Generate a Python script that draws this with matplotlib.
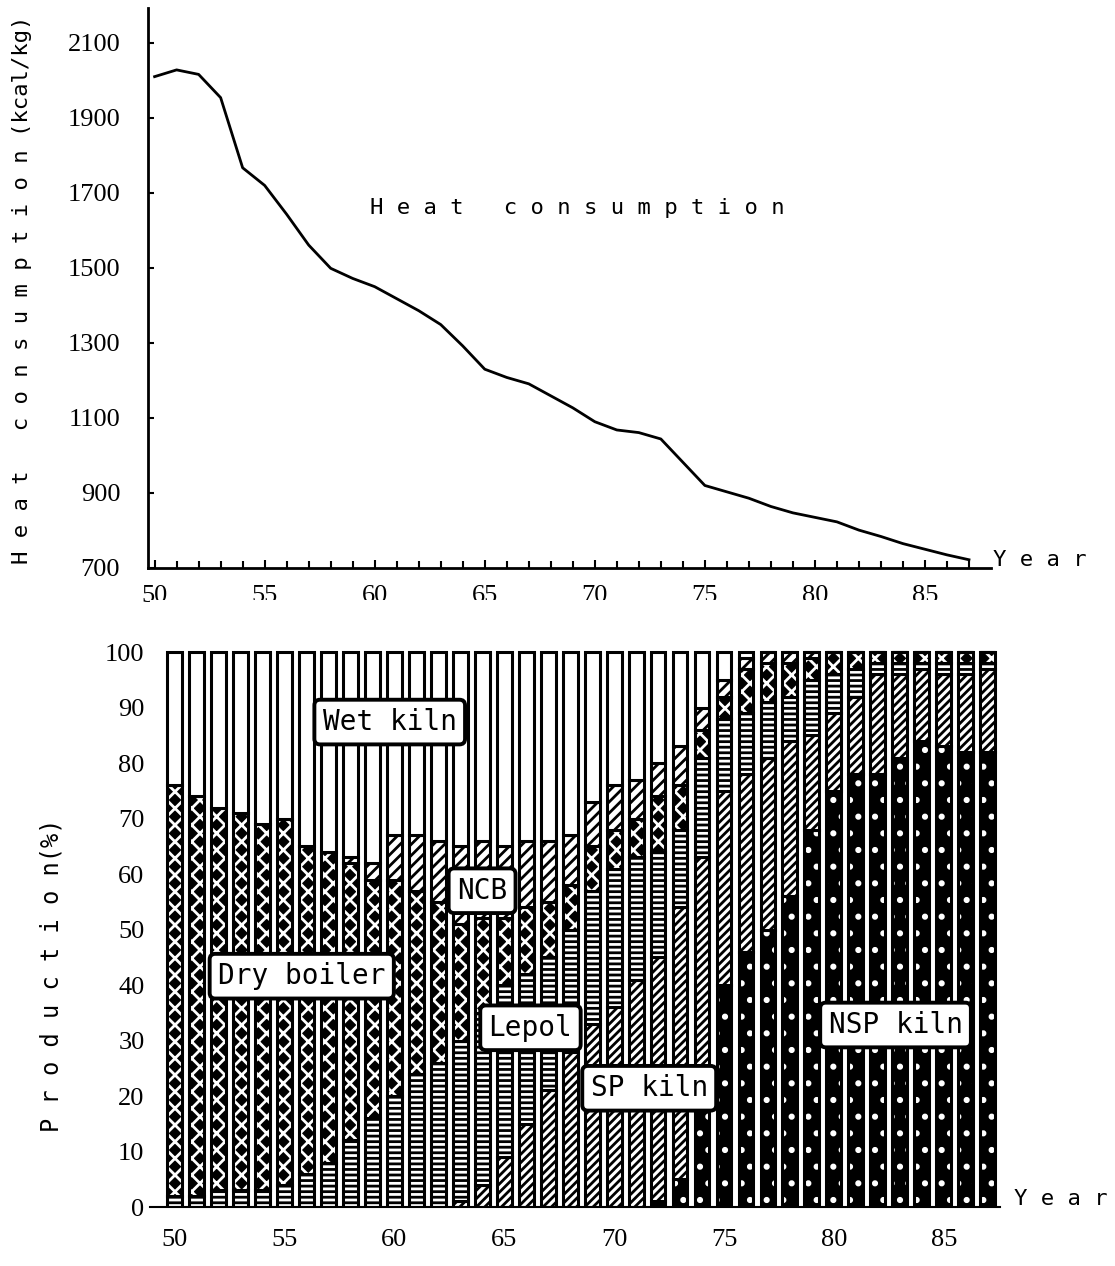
import numpy as np
import matplotlib
matplotlib.use("Agg")
import matplotlib.pyplot as plt

# =========================
# DATA
# =========================

# heat consumption of cement kilns (kcal/kg), years 1950-1987
heat_years = list(range(50, 88))
heat_values = [2010, 2028, 2016, 1954, 1767, 1720, 1643, 1561, 1499, 1472,
               1450, 1418, 1386, 1349, 1292, 1230, 1208, 1191, 1159, 1127,
               1090, 1068, 1061, 1044, 982, 920, 903, 886, 864, 847,
               835, 823, 801, 784, 765, 750, 735, 722]

# production share (%) by kiln type, years 1950-1987
bar_years = list(range(50, 88))
nsp_kiln = [0] * 22 + [1, 5, 25, 40, 46, 50, 56, 68, 75, 78, 78, 81, 84, 83, 82, 82]
sp_kiln = [0] * 13 + [1, 4, 9, 15, 21, 28, 33, 36, 41, 44, 49, 38, 35, 32, 31, 28, 17,
                      14, 14, 18, 15, 13, 13, 14, 15]
lepol = [2, 2, 3, 3, 3, 4, 6, 8, 12, 16, 20, 24, 26, 29, 31, 31, 27, 24, 22, 24,
         25, 22, 19, 14, 18, 13, 11, 10, 8, 10, 7, 5, 2, 2, 1, 2, 2, 1]
dry_boiler = [74, 72, 69, 68, 66, 66, 59, 56, 50, 43, 39, 33, 29, 21, 17, 12, 12, 10,
              8, 8, 7, 7, 10, 8, 5, 4, 8, 7, 6, 4, 4, 3, 2, 2, 2, 2, 2, 2]
ncb = [0] * 8 + [1, 3, 8, 10, 11, 14, 14, 13, 12, 11, 9, 8, 8, 7, 6, 7, 4, 3, 2, 2,
                 2, 1, 0, 0, 0, 0, 0, 0, 0, 0]
wet_kiln = [100 - (a + b + c + d + e) for a, b, c, d, e in
            zip(nsp_kiln, sp_kiln, lepol, dry_boiler, ncb)]

# =========================
# STYLE
# =========================

plt.rcParams["hatch.linewidth"] = 2.0
TICK_FAMILY = "Liberation Serif"
TICK_SIZE = 19
MONO = "DejaVu Sans Mono"

W, H = 1115, 1266
fig = plt.figure(figsize=(W / 100, H / 100), dpi=100)

# =========================
# 1. HEAT CONSUMPTION LINE
# =========================

ax1 = fig.add_axes([148 / W, 1 - 568 / H, 843 / W, 560 / H])
ax1.plot(heat_years, heat_values, color="black", lw=2)
ax1.set_xlim(49.7, 88)
ax1.set_ylim(700, 2193)
for s in ["top", "right"]:
    ax1.spines[s].set_visible(False)
for s in ["left", "bottom"]:
    ax1.spines[s].set_linewidth(2)
ax1.set_xticks(range(50, 90, 5))
ax1.set_xticks(range(50, 88), minor=True)
ax1.set_yticks(range(700, 2101, 200))
ax1.tick_params(axis="both", which="both", direction="in", width=1.5)
ax1.tick_params(axis="x", which="major", length=6, pad=12)
ax1.tick_params(axis="x", which="minor", length=5)
ax1.tick_params(axis="y", length=4, pad=20)
for lab in ax1.get_xticklabels() + ax1.get_yticklabels():
    lab.set_fontfamily(TICK_FAMILY)
    lab.set_fontsize(TICK_SIZE)

ax1.text(59.8, 1660, "H e a t   c o n s u m p t i o n", family=MONO,
         fontsize=16, va="center")
ax1.text(88.1, 720, "Y e a r", family=MONO, fontsize=16, va="center",
         clip_on=False)
fig.text(22 / W, 1 - 290 / H, "H e a t   c o n s u m p t i o n (kcal/kg)",
         family=MONO, fontsize=16, rotation=90, ha="center", va="center")

# =========================
# 2. PRODUCTION SHARE BY KILN TYPE
# =========================

ax2 = fig.add_axes([150 / W, 59 / H, 850 / W, 607 / H])
width = 0.68
lw = 2.2
bottom = np.zeros(len(bar_years))

# (values, hatch, dark face) stacked from the bottom up
layers = [
    (nsp_kiln, ".", True),
    (sp_kiln, "////", False),
    (lepol, "---", False),
    (dry_boiler, "xx", True),
    (ncb, "///", False),
    (wet_kiln, "", False),
]
for values, hatch, dark in layers:
    if dark:
        ax2.bar(bar_years, values, width, bottom=bottom, color="black",
                edgecolor="white", hatch=hatch, linewidth=0)
        ax2.bar(bar_years, values, width, bottom=bottom, fill=False,
                edgecolor="black", linewidth=lw)
    else:
        ax2.bar(bar_years, values, width, bottom=bottom, color="white",
                edgecolor="black", hatch=hatch, linewidth=lw)
    bottom += np.array(values)

ax2.set_xlim(48.9, 87.55)
ax2.set_ylim(0, 109.4)
for s in ["top", "right", "left"]:
    ax2.spines[s].set_visible(False)
ax2.spines["bottom"].set_linewidth(1.5)
ax2.set_xticks(range(50, 90, 5))
ax2.set_yticks(range(0, 101, 10))
ax2.tick_params(axis="both", length=0)
ax2.tick_params(axis="x", pad=16)
ax2.tick_params(axis="y", pad=4)
for lab in ax2.get_xticklabels() + ax2.get_yticklabels():
    lab.set_fontfamily(TICK_FAMILY)
    lab.set_fontsize(TICK_SIZE)

box_labels = [
    ("Wet kiln", 59.8, 87.4),
    ("Dry boiler", 55.8, 41.6),
    ("NCB", 64.0, 57.0),
    ("Lepol", 66.2, 32.3),
    ("SP kiln", 71.6, 21.4),
    ("NSP kiln", 82.8, 32.8),
]
for text, x, y in box_labels:
    ax2.text(x, y, text, family=MONO, fontsize=20, ha="center", va="center",
             zorder=5,
             bbox=dict(boxstyle="round,pad=0.3,rounding_size=0.2",
                       fc="white", ec="black", lw=2.8))

ax2.text(88.2, 1.5, "Y e a r", family=MONO, fontsize=16, va="center",
         clip_on=False)
fig.text(52 / W, 1 - 975 / H, "P r o d u c t i o n(%)", family=MONO,
         fontsize=17, rotation=90, ha="center", va="center")

fig.savefig("out.png", dpi=100)
